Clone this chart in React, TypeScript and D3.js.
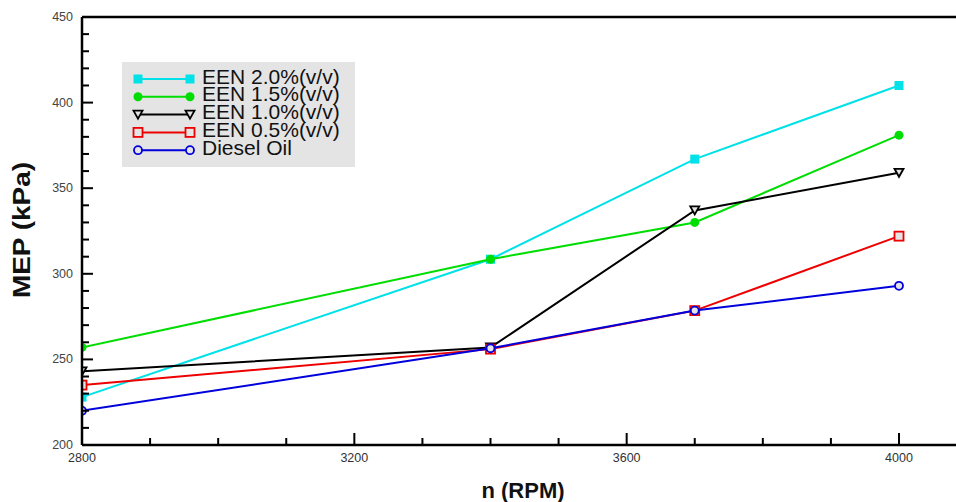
import React from "react";
import * as d3 from "d3";

const rpm = [2800, 3400, 3700, 4000];
const een20 = [228, 308.5, 367, 410];
const een15 = [257, 308.5, 330, 381];
const een10 = [243, 257, 337, 359];
const een05 = [235, 256, 278.5, 322];
const diesel = [220, 256.5, 278.5, 293];

const seriesNames = ["EEN 2.0%(v/v)", "EEN 1.5%(v/v)", "EEN 1.0%(v/v)", "EEN 0.5%(v/v)", "Diesel Oil"];
const xTicks = [2800, 3200, 3600, 4000];
const yTicks = [200, 250, 300, 350, 400, 450];

const series = [
  { name: seriesNames[0], values: een20, color: "#00e1e8", marker: "fsquare" },
  { name: seriesNames[1], values: een15, color: "#00dd00", marker: "fcircle" },
  { name: seriesNames[2], values: een10, color: "#000000", marker: "tri" },
  { name: seriesNames[3], values: een05, color: "#ee0000", marker: "osquare" },
  { name: seriesNames[4], values: diesel, color: "#0000dd", marker: "ocircle" },
];

const left = 82, right = 956, top = 17, bottom = 445;

function Marker({ type, x, y, color, bg }: { type: string; x: number; y: number; color: string; bg: string }) {
  if (type === "fsquare") return <rect x={x - 4.5} y={y - 4.5} width={9} height={9} fill={color} />;
  if (type === "fcircle") return <circle cx={x} cy={y} r={4.5} fill={color} />;
  if (type === "tri")
    return <path d={`M${x - 4.5},${y - 4} L${x + 4.5},${y - 4} L${x},${y + 4} Z`} fill={bg} stroke={color} strokeWidth={1.8} />;
  if (type === "osquare") return <rect x={x - 4.5} y={y - 4.5} width={9} height={9} fill={bg} stroke={color} strokeWidth={1.8} />;
  return <circle cx={x} cy={y} r={4} fill={bg} stroke={color} strokeWidth={1.8} />;
}

export default function App() {
  const x = d3.scaleLinear().domain([2800, 4000]).range([left, 899]);
  const y = d3.scaleLinear().domain([200, 450]).range([bottom, top]);
  const line = d3
    .line<number>()
    .x((_, i) => x(rpm[i]))
    .y((d) => y(d));

  const xMinor = d3.range(2800, 4100, 100).filter((v) => v % 400 !== 0);
  const yMinor = d3.range(200, 450, 10).filter((v) => v % 50 !== 0);
  const font = "'Liberation Sans', Arial, sans-serif";

  return (
    <div style={{ position: "absolute", left: 0, top: 0 }}>
      <svg width={956} height={502} style={{ display: "block", background: "#fff" }} fontFamily={font}>
        <defs>
          <clipPath id="plot">
            <rect x={left + 1} y={top} width={right - left} height={bottom - top} />
          </clipPath>
        </defs>

        {/* series */}
        <g clipPath="url(#plot)">
          {series.map((s) => (
            <g key={s.name}>
              <path d={line(s.values) || ""} fill="none" stroke={s.color} strokeWidth={2} />
              {s.values.map((v, i) => (
                <Marker key={i} type={s.marker} x={x(rpm[i])} y={y(v)} color={s.color} bg="#e4e4e4" />
              ))}
            </g>
          ))}
        </g>

        {/* axes */}
        <line x1={left} x2={right} y1={top} y2={top} stroke="#000" strokeWidth={2.5} />
        <line x1={left} x2={right} y1={bottom} y2={bottom} stroke="#000" strokeWidth={2.5} />
        <line x1={left} x2={left} y1={top} y2={bottom} stroke="#000" strokeWidth={2.5} />

        {xTicks.map((t) => (
          <g key={t}>
            <line x1={x(t)} x2={x(t)} y1={bottom} y2={bottom - 12} stroke="#000" strokeWidth={2} />
            <text x={x(t)} y={462} fontSize={12.5} fill="#333" textAnchor="middle">
              {t}
            </text>
          </g>
        ))}
        {xMinor.map((t) => (
          <line key={t} x1={x(t)} x2={x(t)} y1={bottom} y2={bottom - 7} stroke="#000" strokeWidth={2} />
        ))}
        {yTicks.map((t) => (
          <g key={t}>
            <line x1={left} x2={left + 11} y1={y(t)} y2={y(t)} stroke="#000" strokeWidth={2} />
            <text x={73} y={y(t) + 4} fontSize={12.5} fill="#444" textAnchor="end">
              {t}
            </text>
          </g>
        ))}
        {yMinor.map((t) => (
          <line key={t} x1={left} x2={left + 7} y1={y(t)} y2={y(t)} stroke="#000" strokeWidth={2} />
        ))}

        <text x={523} y={498} fontSize={22} fontWeight="bold" textAnchor="middle" fill="#111">
          n (RPM)
        </text>
        <text
          transform="translate(30,230) rotate(-90)"
          fontSize={23}
          fontWeight="bold"
          textAnchor="middle"
          fill="#111"
          textLength={136}
          lengthAdjust="spacingAndGlyphs"
        >
          MEP (kPa)
        </text>

        {/* legend */}
        <rect x={122} y={62} width={233} height={105} fill="#e4e4e4" />
        {series.map((s, i) => {
          const ly = 79 + i * 17.8;
          return (
            <g key={s.name}>
              <line x1={138} x2={190} y1={ly} y2={ly} stroke={s.color} strokeWidth={2} />
              <Marker type={s.marker} x={138} y={ly} color={s.color} bg="#e4e4e4" />
              <Marker type={s.marker} x={190} y={ly} color={s.color} bg="#e4e4e4" />
              <text x={202} y={ly + 4.5} fontSize={21} fill="#111">
                {s.name}
              </text>
            </g>
          );
        })}
      </svg>
    </div>
  );
}
